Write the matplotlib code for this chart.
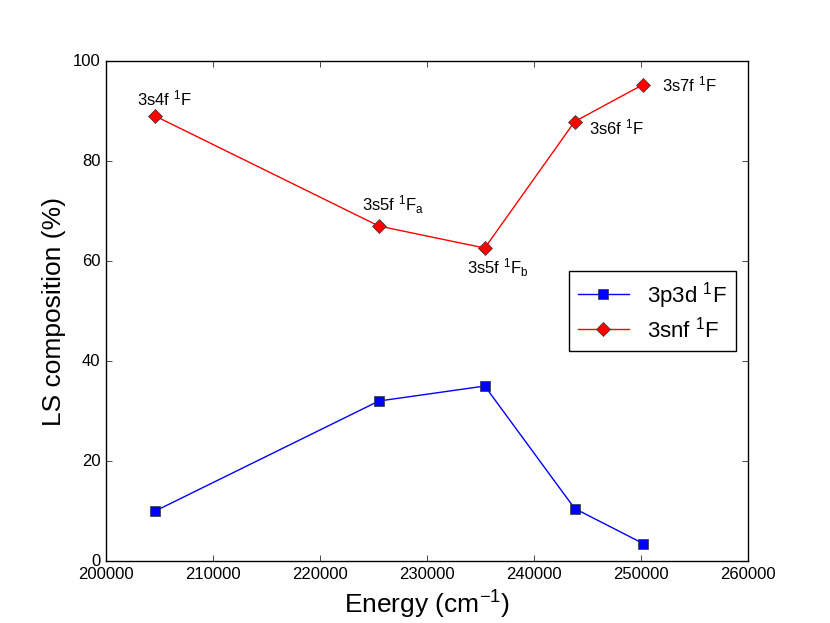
import matplotlib
matplotlib.use("Agg")
import matplotlib.pyplot as plt

plt.style.use("classic")
plt.rcParams['font.family'] = ['Liberation Sans', 'DejaVu Sans']
plt.rcParams['mathtext.fontset'] = 'custom'
plt.rcParams['mathtext.rm'] = 'Liberation Sans'
plt.rcParams['mathtext.it'] = 'Liberation Sans:italic'
plt.rcParams['mathtext.default'] = 'regular'

energy = [204600, 225500, 235400, 243800, 250200]
comp_3p3d = [10.0, 32.0, 35.0, 10.5, 3.5]
comp_3snf = [89.0, 67.0, 62.6, 87.9, 95.3]
labels = ["3s4f $^{1}$F", "3s5f $^{1}F_{a}$", "3s5f $^{1}F_{b}$", "3s6f $^{1}$F", "3s7f $^{1}$F"]
offsets = [(-18, 18), (-17, 21), (-18, -20), (14, -6), (19, 0)]

fig = plt.figure(figsize=(8.3, 6.23), dpi=100)
ax = fig.add_axes([0.1277, 0.0995, 0.7735, 0.8025])

ax.plot(energy, comp_3p3d, color='blue', marker='s', markersize=7,
        markerfacecolor='blue', markeredgecolor='#333333', label='3p3d $^{1}$F')
ax.plot(energy, comp_3snf, color='red', marker='D', markersize=7.5,
        markerfacecolor='red', markeredgecolor='#333333', label='3snf $^{1}$F')

for x, y, lab, off in zip(energy, comp_3snf, labels, offsets):
    ax.annotate(lab, (x, y), xytext=off, textcoords='offset pixels',
                ha='left', va='center', fontsize=12)

ax.set_xlim(200000, 260000)
ax.set_ylim(0, 100)
ax.set_xticks([200000, 210000, 220000, 230000, 240000, 250000, 260000])
ax.set_yticks([0, 20, 40, 60, 80, 100])
ax.tick_params(labelsize=12)
ax.ticklabel_format(useOffset=False, style='plain')
ax.set_xlabel("Energy (cm$^{-1}$)", fontsize=19)
ax.set_ylabel("LS composition (%)", fontsize=19)

ax.legend(loc='center right', bbox_to_anchor=(0.998, 0.5), fontsize=16,
          numpoints=1, frameon=True, labelspacing=0.25, handlelength=2.3)

fig.savefig("out.png", dpi=100)
